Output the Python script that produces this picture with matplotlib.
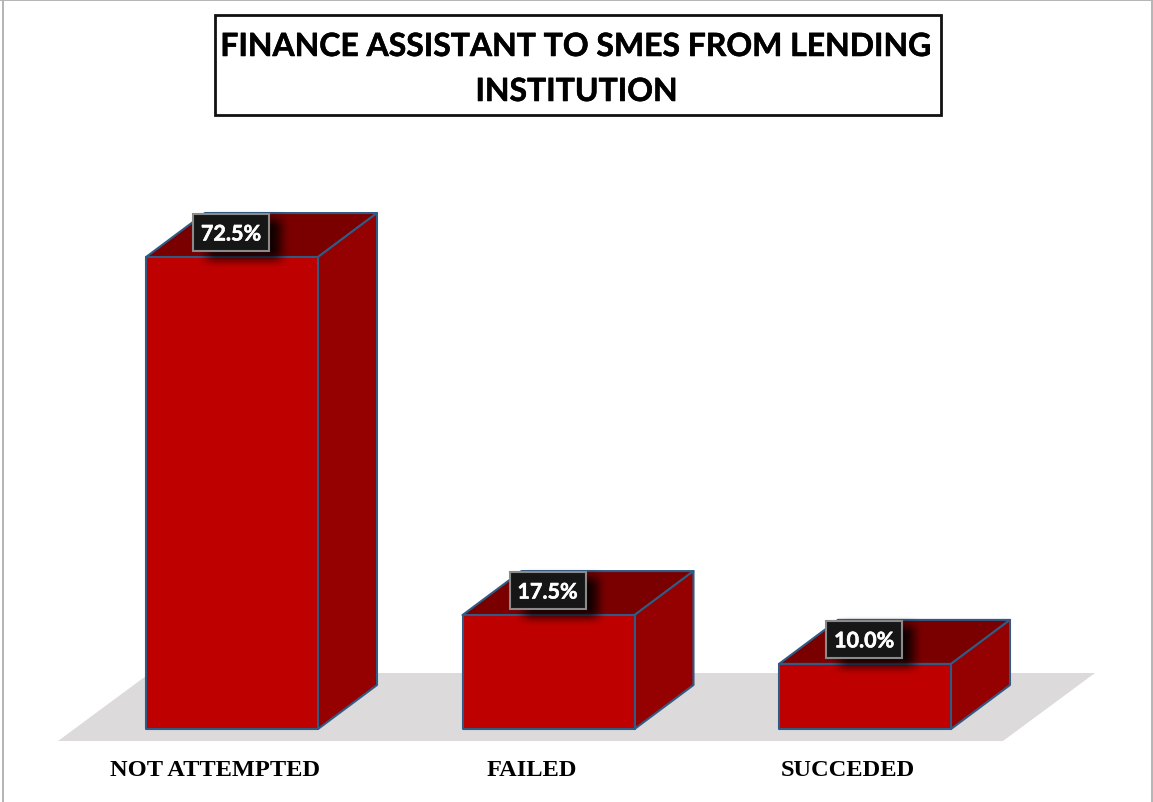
import matplotlib
matplotlib.use("Agg")
import matplotlib.pyplot as plt
import matplotlib.patheffects as pe
import numpy as np
from matplotlib.lines import Line2D
from matplotlib.patches import Polygon, Rectangle

categories = ["NOT ATTEMPTED", "FAILED", "SUCCEDED"]
shares = [72.5, 17.5, 10.0]
title_lines = ["FINANCE ASSISTANT TO SMES FROM LENDING", "INSTITUTION"]

W, H = 1153, 803
BAR_STEP_PX = 316.5      # distance between bar centres
UNIT_PX = 6.51           # pixels per percentage point
BASE_PX = 730            # baseline, from the top edge
FIRST_PX = 232           # centre of first bar
BAR_W = 172 / BAR_STEP_PX
DX = 59 / BAR_STEP_PX    # oblique depth of the boxes
DY = 44 / UNIT_PX

FRONT, SIDE, TOP = "#BE0000", "#950000", "#7A0000"
EDGE = "#2F5B85"
FLOOR = "#DCDADB"
FRAME = "#B4B4B4"

px_x = 1 / BAR_STEP_PX
px_y = 1 / UNIT_PX


def soft_shadow(w_px, h_px, feather_px):
    """RGBA black rectangle whose alpha fades out over feather_px at each edge."""
    def ramp(size):
        d = np.minimum(np.arange(size) + 0.5, size - np.arange(size) - 0.5) / feather_px
        d = np.clip(d, 0, 1)
        return d * d * (3 - 2 * d)
    rgba = np.zeros((h_px, w_px, 4))
    rgba[..., 3] = 0.85 * np.outer(ramp(h_px), ramp(w_px))
    return rgba


fig = plt.figure(figsize=(W / 100, H / 100), dpi=100, facecolor="white")
ax = fig.add_axes([0, 0, 1, 1])
ax.axis("off")

# chart frame: left, right and top rules only
for xs, ys in (((2.5, 2.5), (0, H)), ((1152, 1152), (0, H)), ((0, W), (0.7, 0.7))):
    ax.add_line(Line2D([x / W for x in xs], [1 - y / H for y in ys], transform=ax.transAxes,
                       color=FRAME, lw=1.4, zorder=0))

# floor plane under the boxes
n = len(categories)
fl = -0.5 * BAR_W - 88 * px_x
fr = (n - 1) + 0.5 * BAR_W + 52 * px_x
fb = -12 * px_y
ft = 56 * px_y
ax.add_patch(Polygon([(fl, fb), (fr, fb), (fr + 92 * px_x, ft), (fl + 92 * px_x, ft)],
                     closed=True, fc=FLOOR, ec="none", zorder=1))

SHADOW_W, SHADOW_H = 94, 60
shadow = soft_shadow(SHADOW_W, SHADOW_H, 20)

for i, (cat, v) in enumerate(zip(categories, shares)):
    x0, x1 = i - BAR_W / 2, i + BAR_W / 2
    style = dict(closed=True, ec=EDGE, lw=1.5, joinstyle="round")
    ax.add_patch(Polygon([(x0, v), (x1, v), (x1 + DX, v + DY), (x0 + DX, v + DY)],
                         fc=TOP, zorder=2, **style))
    ax.add_patch(Polygon([(x1, 0), (x1 + DX, DY), (x1 + DX, v + DY), (x1, v)],
                         fc=SIDE, zorder=2, **style))
    ax.add_patch(Polygon([(x0, 0), (x1, 0), (x1, v), (x0, v)],
                         fc=FRONT, zorder=3, **style))

    # value tag with a soft drop shadow
    tag_x0 = x0 + 47 * px_x
    tag_w = 76 * px_x
    tag_h = 37 * px_y
    tag_y0 = v + 6 * px_y
    sx0 = tag_x0 + 4 * px_x
    sy0 = tag_y0 - 18 * px_y
    ax.imshow(shadow, extent=(sx0, sx0 + SHADOW_W * px_x, sy0, sy0 + SHADOW_H * px_y),
              aspect="auto", interpolation="bilinear", zorder=4)
    ax.add_patch(Rectangle((tag_x0, tag_y0), tag_w, tag_h, fc="#161616",
                           ec="#8A8A8A", lw=1.5, zorder=5))
    ax.text(tag_x0 + tag_w / 2, tag_y0 + tag_h / 2 + 0.5 * px_y, f"{v:.1f}%", color="white",
            family="Lato", weight="bold", fontsize=15.5, ha="center",
            va="center_baseline", zorder=6,
            path_effects=[pe.withStroke(linewidth=0.4, foreground="white")])

    # category label under the floor
    ax.text(i - 17 * px_x, -41 * px_y, cat,
            family="Liberation Serif", weight="bold", fontsize=17.6,
            ha="center", va="center", color="black", zorder=6)

# boxed title
ax.add_patch(Rectangle((215 / W, 1 - 116 / H), 726 / W, 100 / H, transform=ax.transAxes,
                       fc="white", ec="#111111", lw=2.0, zorder=7))
for line, ypx in zip(title_lines, (45, 90)):
    ax.text(577 / W, 1 - ypx / H, line, transform=ax.transAxes, family="Lato",
            weight="bold", fontsize=23, ha="center", va="center_baseline",
            color="black", zorder=8,
            path_effects=[pe.withStroke(linewidth=0.4, foreground="black")])

ax.set_xlim(-FIRST_PX / BAR_STEP_PX, (W - FIRST_PX) / BAR_STEP_PX)
ax.set_ylim(-(H - BASE_PX) / UNIT_PX, BASE_PX / UNIT_PX)

fig.savefig("out.png", dpi=100)
